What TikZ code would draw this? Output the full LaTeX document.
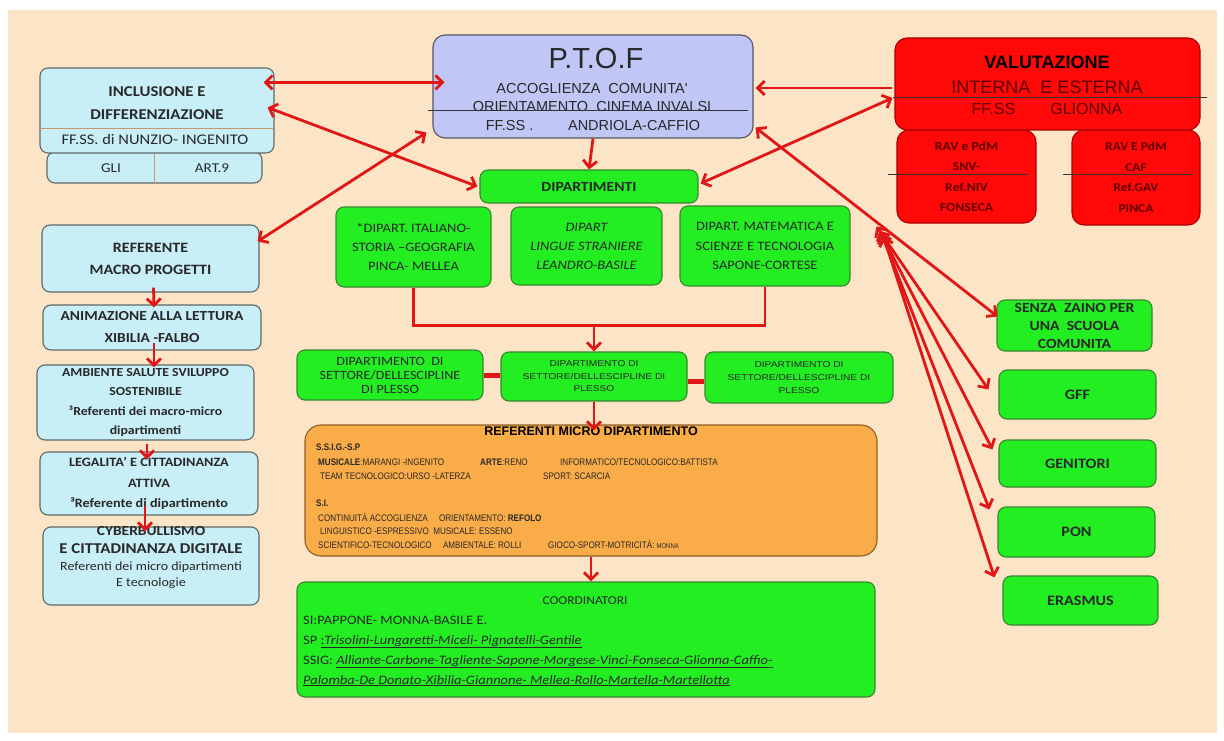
\documentclass[tikz,border=0pt]{standalone}
\usepackage{fontspec}
\setmainfont{Carlito}[FakeStretch=1.12]
\newfontfamily\arialf{Liberation Sans}
\newfontfamily\narrowf[FakeStretch=0.85]{Liberation Sans}
\newfontfamily\widef[FakeStretch=1.2]{Liberation Sans}
\usetikzlibrary{arrows.meta,calc}

\definecolor{pagepeach}{RGB}{252,228,198}
\definecolor{paleblue}{RGB}{200,238,248}
\definecolor{blueedge}{RGB}{95,105,105}
\definecolor{lavender}{RGB}{192,198,246}
\definecolor{lavedge}{RGB}{85,85,95}
\definecolor{brightgreen}{RGB}{34,238,34}
\definecolor{greenedge}{RGB}{55,135,45}
\definecolor{orangefill}{RGB}{250,172,72}
\definecolor{orangeedge}{RGB}{140,95,40}
\definecolor{redfill}{RGB}{255,8,8}
\definecolor{rededge}{RGB}{170,0,0}
\definecolor{linkred}{RGB}{225,22,22}
\definecolor{inktext}{RGB}{40,40,40}
\definecolor{redink}{RGB}{95,0,0}
\definecolor{tanline}{RGB}{200,150,110}

\newcommand{\setfs}[2]{\fontsize{#1}{#2}\selectfont}

\begin{document}
\begin{tikzpicture}[x=1pt,y=-1pt,
  box/.style={rounded corners=8pt, line width=1.1pt, inner sep=0pt, align=center, text=inktext},
  bluebox/.style={box, fill=paleblue, draw=blueedge},
  lavbox/.style={box, fill=lavender, draw=lavedge, rounded corners=12pt},
  greenbox/.style={box, fill=brightgreen, draw=greenedge},
  orangebox/.style={box, fill=orangefill, draw=orangeedge, rounded corners=16pt},
  redbox/.style={box, fill=redfill, draw=rededge, rounded corners=12pt, text=redink},
  txt/.style={inner sep=0pt, text=inktext, align=center},
  rowtext/.style={inner sep=0pt, anchor=base west, text=inktext, font=\narrowf\setfs{9.5}{11}},
  coordtext/.style={inner sep=0pt, anchor=base west, text=inktext, font=\setfs{12.9}{15}},
  link/.style={draw=linkred, line width=2.8pt},
  >={Straight Barb[length=7pt,width=14pt]},
  innerline/.style={line width=0.7pt, draw=black!80}
]
% page
\fill[white] (0,0) rectangle (1224,741);
\fill[pagepeach] (8,10) rectangle (1217,733);
\useasboundingbox (0,0) rectangle (1224,741);

% ---------- inclusion ----------
\node[bluebox, minimum width=215pt, minimum height=31pt] (gli) at (154.5,167.5) {};
\draw[tanline, line width=0.8pt] (gli.north) -- (gli.south);
\node[txt, font=\setfs{13.5}{15}] (gliA) at (111,168) {GLI};
\node[txt, font=\setfs{13.5}{15}] (gliB) at (212,168) {ART.9};
\node[bluebox, minimum width=234pt, minimum height=85pt] (incl) at (157,110.5) {};
\draw[tanline, line width=0.8pt] (40,128) -- (274,128);
\node[txt, font=\bfseries\setfs{15}{17}] (inclA) at (157,92) {INCLUSIONE E};
\node[txt, font=\bfseries\setfs{15}{17}] (inclB) at (157,115) {DIFFERENZIAZIONE};
\node[txt, font=\setfs{14.7}{16}] (inclC) at (155,139) {FF.SS. di NUNZIO- INGENITO};

% ---------- P.T.O.F ----------
\node[lavbox, minimum width=320pt, minimum height=103pt] (ptof) at (593,86.5) {};
\node[txt, font=\arialf\setfs{29}{30}] (ptofT) at (596,59) {P.T.O.F};
\node[txt, font=\arialf\setfs{14.5}{16}] (ptofA) at (592,89) {ACCOGLIENZA\ \ COMUNITA'};
\node[txt, font=\arialf\setfs{14.5}{16}] (ptofB) at (592,107) {ORIENTAMENTO\ \ CINEMA INVALSI};
\draw[innerline] (428,110) -- (748,110);
\node[txt, font=\arialf\setfs{14.5}{16}] (ptofC) at (593,126) {FF.SS .\hspace{2.4em}ANDRIOLA-CAFFIO};

\node[greenbox, minimum width=218pt, minimum height=33pt, font=\bfseries\setfs{14}{15}] (dip) at (589,186.5) {DIPARTIMENTI};

% ---------- valutazione ----------
\node[redbox, minimum width=139pt, minimum height=93pt, font=\bfseries\setfs{12.3}{20.5}] (rav1) at (966.5,176.5) {RAV e PdM\\SNV-\\Ref.NIV\\FONSECA};
\node[redbox, minimum width=128pt, minimum height=95pt, font=\bfseries\setfs{12}{20.5}] (rav2) at (1136,177.5) {RAV E PdM\\CAF\\Ref.GAV\\PINCA};
\draw[innerline] (888,174) -- (1028,174);
\draw[innerline] (1063,174) -- (1193,174);
\node[redbox, minimum width=305pt, minimum height=92pt] (val) at (1047.5,84) {};
\node[txt, text=black, font=\arialf\bfseries\setfs{18}{20}] (valA) at (1047,62) {VALUTAZIONE};
\node[txt, text=redink, font=\arialf\setfs{18}{20}] (valB) at (1047,87) {INTERNA\ \ E ESTERNA};
\draw[innerline] (893,97) -- (1207,97);
\node[txt, text=redink, font=\arialf\setfs{16}{18}] (valC) at (1047,109) {FF.SS\hspace{2.2em}GLIONNA};

% ---------- left column ----------
\node[bluebox, minimum width=217pt, minimum height=67pt, font=\bfseries\setfs{14.3}{22}] (ref) at (150.5,258.5) {REFERENTE\\MACRO PROGETTI};
\node[bluebox, minimum width=218pt, minimum height=45pt, font=\bfseries\setfs{13.8}{22}] (anim) at (152,327.5) {ANIMAZIONE ALLA LETTURA\\XIBILIA -FALBO};
\node[bluebox, minimum width=217pt, minimum height=75pt, font=\bfseries\setfs{12.3}{19.3}] (amb) at (145.5,402.5) {AMBIENTE SALUTE SVILUPPO\\SOSTENIBILE\\³Referenti dei macro-micro\\dipartimenti};
\node[bluebox, minimum width=218pt, minimum height=63pt, font=\bfseries\setfs{12.7}{20.5}] (leg) at (149,483.5) {LEGALITA’ E CITTADINANZA\\ATTIVA\\³Referente di dipartimento};
\node[bluebox, minimum width=216pt, minimum height=78pt] (cyber) at (151,566) {};
\node[txt, font=\bfseries\setfs{13.8}{15}] (cyberA) at (151,531) {CYBERBULLISMO};
\node[txt, font=\bfseries\setfs{15}{17}] (cyberB) at (151,549) {E CITTADINANZA DIGITALE};
\node[txt, font=\setfs{12.5}{16.5}] (cyberC) at (151,575) {Referenti dei micro dipartimenti\\E tecnologie};

% ---------- departments ----------
\node[greenbox, minimum width=155pt, minimum height=80pt, font=\setfs{12.9}{19}] (ital) at (413.5,247) {*DIPART. ITALIANO-\\STORIA –GEOGRAFIA\\PINCA- MELLEA};
\node[greenbox, minimum width=151pt, minimum height=78pt, font=\itshape\setfs{12.9}{19}] (ling) at (586.5,246) {DIPART\\LINGUE STRANIERE\\LEANDRO-BASILE};
\node[greenbox, minimum width=170pt, minimum height=80pt, font=\setfs{12.9}{19.5}] (mat) at (765,246) {DIPART. MATEMATICA E\\SCIENZE E TECNOLOGIA\\SAPONE-CORTESE};

\node[greenbox, minimum width=186pt, minimum height=50pt, font=\setfs{12.6}{14}] (set1) at (390,375) {DIPARTIMENTO\ \ DI\\SETTORE/DELLESCIPLINE\\DI PLESSO};
\node[greenbox, minimum width=186pt, minimum height=49pt, font=\widef\setfs{8.5}{12.5}] (set2) at (594,376.5) {DIPARTIMENTO DI\\SETTORE/DELLESCIPLINE DI\\PLESSO};
\node[greenbox, minimum width=188pt, minimum height=51pt, font=\widef\setfs{8.5}{13}] (set3) at (799,377.5) {DIPARTIMENTO DI\\SETTORE/DELLESCIPLINE DI\\PLESSO};

% ---------- micro departments ----------
\node[orangebox, minimum width=572pt, minimum height=131pt] (micro) at (591,490.5) {};
\node[txt, font=\arialf\bfseries\setfs{12.5}{14}, text=black] (microT) at (591,431) {REFERENTI MICRO DIPARTIMENTO};
\node[rowtext] (m1) at (316,450) {\bfseries S.S.I.G.-S.P};
\node[rowtext] (m2) at (318,465) {\bfseries MUSICALE\mdseries:MARANGI -INGENITO};
\node[rowtext] (m2b) at (480,465) {\bfseries ARTE\mdseries:RENO};
\node[rowtext] (m2c) at (560,465) {INFORMATICO/TECNOLOGICO:BATTISTA};
\node[rowtext] (m3) at (320,479) {TEAM TECNOLOGICO:URSO -LATERZA};
\node[rowtext] (m3b) at (543,479) {SPORT: SCARCIA};
\node[rowtext] (m4) at (316,506) {\bfseries S.I.};
\node[rowtext] (m5) at (318,521) {CONTINUITÀ ACCOGLIENZA\hspace{1.2em}ORIENTAMENTO: \bfseries REFOLO};
\node[rowtext] (m6) at (320,534) {LINGUISTICO -ESPRESSIVO\ \ MUSICALE: ESSENO};
\node[rowtext] (m7) at (318,548) {SCIENTIFICO-TECNOLOGICO\hspace{1.2em}AMBIENTALE: ROLLI};
\node[rowtext] (m7c) at (548,548) {GIOCO-SPORT-MOTRICITÀ: {\setfs{7}{9}MONNA}};

% ---------- coordinators ----------
\node[greenbox, minimum width=578pt, minimum height=115pt] (coord) at (586,639.5) {};
\node[txt, font=\setfs{12}{14}] (coordT) at (585,601) {COORDINATORI};
\node[coordtext] (c1) at (303,624) {SI:PAPPONE- MONNA-BASILE E.};
\node[coordtext] (c2) at (303,644) {SP \underline{:\itshape Trisolini-Lungaretti-Miceli- Pignatelli-Gentile}};
\node[coordtext] (c3) at (303,664) {SSIG: \underline{\itshape Alliante-Carbone-Tagliente-Sapone-Morgese-Vinci-Fonseca-Glionna-Caffio-}};
\node[coordtext] (c4) at (303,684) {\underline{\itshape Palomba-De Donato-Xibilia-Giannone- Mellea-Rollo-Martella-Martellotta}};

% ---------- projects column ----------
\node[greenbox, minimum width=155pt, minimum height=51pt, font=\bfseries\setfs{14}{18}] (senza) at (1074.5,325.5) {SENZA\ \ ZAINO PER\\UNA\ \ SCUOLA\\COMUNITA};
\node[greenbox, minimum width=157pt, minimum height=49pt, font=\bfseries\setfs{14.4}{16}] (gff) at (1077.5,394.5) {GFF};
\node[greenbox, minimum width=157pt, minimum height=47pt, font=\bfseries\setfs{14.4}{16}] (gen) at (1077.5,463.5) {GENITORI};
\node[greenbox, minimum width=157pt, minimum height=50pt, font=\bfseries\setfs{14.4}{16}] (pon) at (1076.5,532) {PON};
\node[greenbox, minimum width=155pt, minimum height=49pt, font=\bfseries\setfs{14.4}{16}] (eras) at (1080.5,600.5) {ERASMUS};

% ---------- connectors ----------
\draw[link,<->] ($(incl.north east)+(-11,15)$) -- ($(ptof.north west)+(12,48)$);
\draw[link,<->] ($(incl.north east)+(-7,40)$) -- ($(dip.west)+(-2,0)$);
\draw[link,<->] ($(ref.north east)+(-2,17)$) -- ($(ptof.south west)+(-6,-6)$);
\draw[link,->] ($(val.west)+(-2,4)$) -- ($(ptof.east)+(2,1.5)$);
\draw[link,<->] ($(dip.east)+(2,-3)$) -- ($(val.west)+(-2,14)$);
\draw[link,<->] ($(ptof.south east)+(2,-11)$) -- ($(senza.north west)+(1,17)$);
\draw[link,->] (ptof.south) -- (dip.north);

\coordinate (hub) at ($(rav1.south west)+(-20,3)$);
\draw[link,<->] (hub) -- ($(gff.north west)+(-10,20)$);
\draw[link,<->] ($(hub)+(3,4)$) -- ($(gen.north west)+(-6,10)$);
\draw[link,<->] ($(hub)+(5,7)$) -- ($(pon.north west)+(-8,3)$);
\draw[link,<->] ($(hub)+(7,10)$) -- ($(eras.north west)+(-8,2)$);

\draw[link,->] ($(ref.south)+(3,-5)$) -- ($(anim.north)+(2,3)$);
\draw[link,->] ($(anim.south)+(2,-8)$) -- ($(amb.north)+(8.5,3)$);
\draw[link,->] ($(amb.south)+(1.5,3)$) -- ($(leg.north)+(-2,8)$);
\draw[link,->] ($(leg.south)+(-4,-10)$) -- ($(cyber.north)+(-6,5)$);

\draw[link] (ital.south) -- ++(0,38) coordinate (joinrow) -| (mat.south);
\draw[link,->] (set2.north |- joinrow) -- (set2.north);
\draw[link, line width=5pt] (set1.east) -- (set1.east -| set2.west);
\draw[link, line width=5pt] ($(set2.east)+(0,5)$) -- ($(set2.east -| set3.west)+(0,5)$);
\draw[link,->] (set2.south) -- ($(set2.south |- micro.north)+(0,6)$);
\draw[link,->] (micro.south) -- (micro.south |- coord.north);
\end{tikzpicture}
\end{document}
